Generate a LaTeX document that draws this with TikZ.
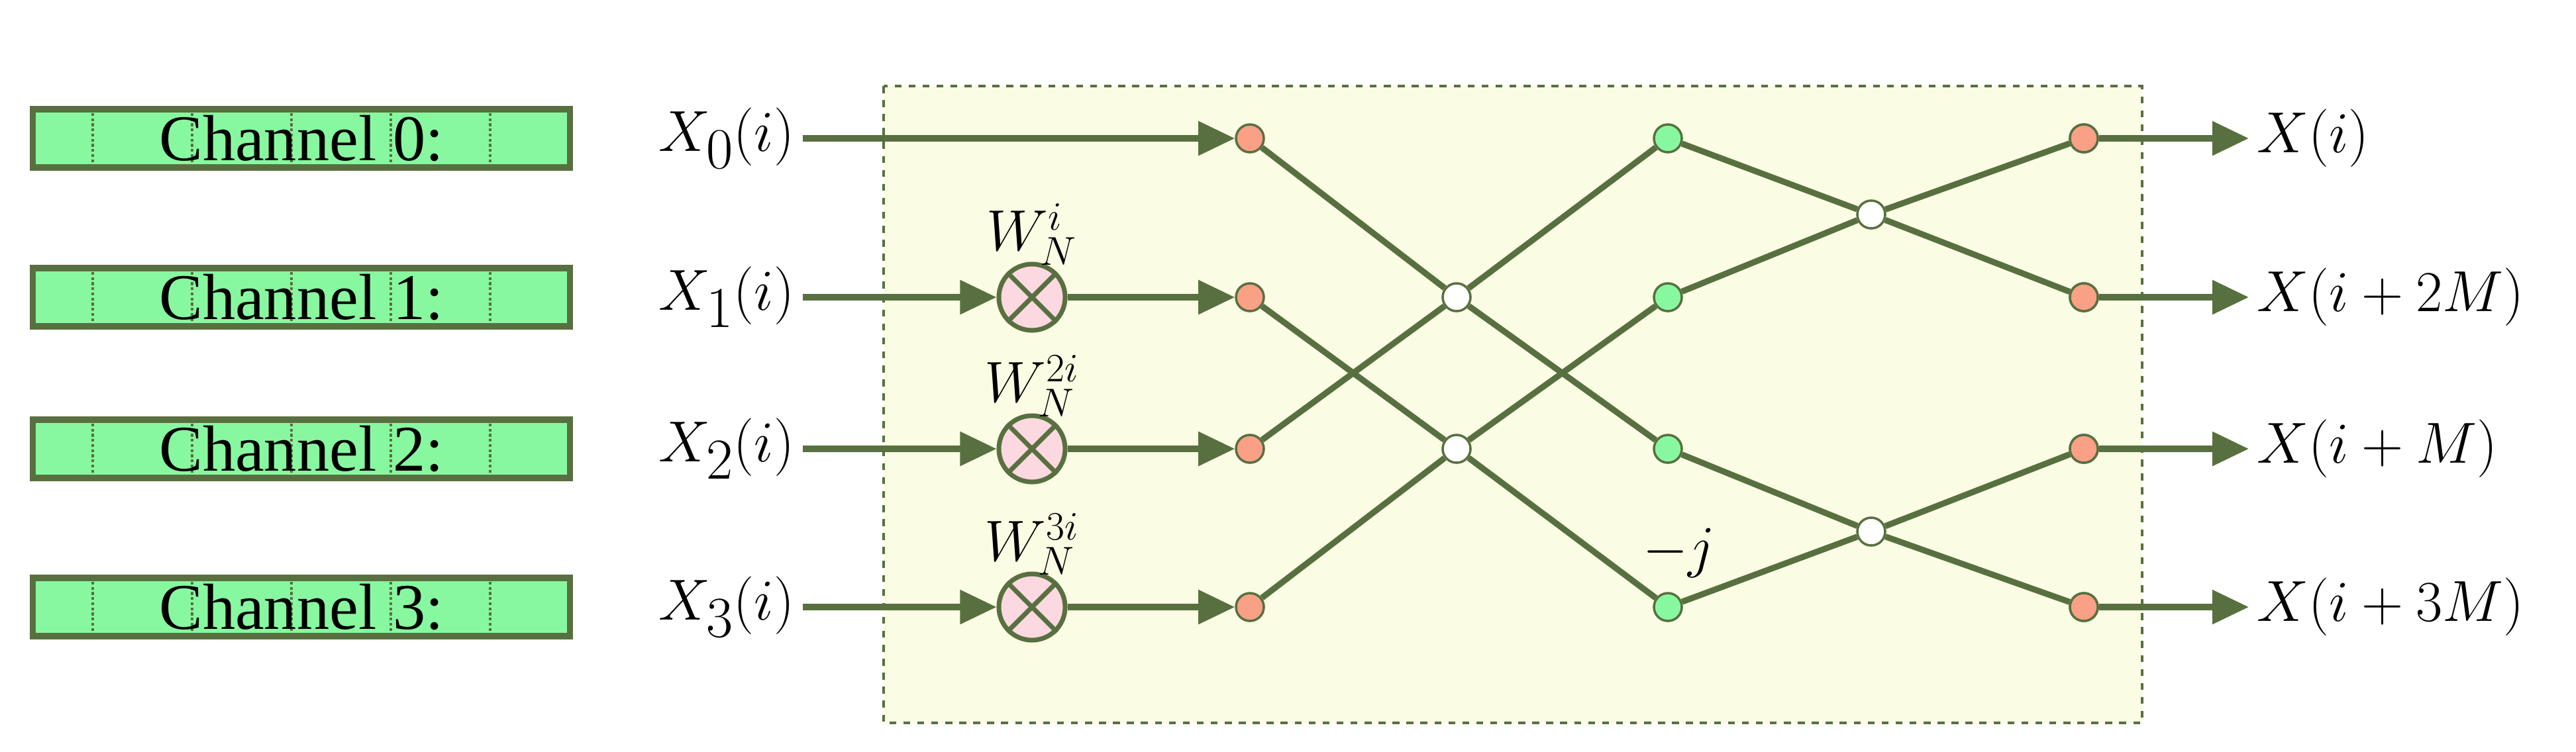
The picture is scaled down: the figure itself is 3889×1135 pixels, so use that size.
\documentclass[tikz,border=0pt]{standalone}
\usepackage{fontspec}
\setmainfont{Liberation Serif}
\usetikzlibrary{arrows.meta, positioning}
\definecolor{edgegreen}{RGB}{88,112,64}
\definecolor{chanfill}{RGB}{136,248,160}
\definecolor{boxfill}{RGB}{250,252,228}
\definecolor{salmon}{RGB}{250,160,135}
\definecolor{pinkfill}{RGB}{252,216,224}
\begin{document}
\begin{tikzpicture}[x=0.01cm, y=-0.01cm,
    line/.style={draw=edgegreen, line width=2.6pt},
    arr/.style={line, -{Triangle[length=0.55cm, width=0.5cm]}},
    chan/.style={draw=edgegreen, line width=2.6pt, fill=chanfill, minimum width=8.1cm, minimum height=0.88cm, inner sep=0pt, font=\fontsize{28}{30}\selectfont},
    sig/.style={font=\fontsize{34}{40}\selectfont},
    dot/.style={circle, draw=edgegreen, line width=1pt, fill=#1, minimum size=0.42cm, inner sep=0pt},
    mult/.style={circle, draw=edgegreen, line width=2pt, fill=pinkfill, minimum size=1.0cm, inner sep=0pt}]
    \useasboundingbox (0,0) rectangle (3889,1135);
    \fill[boxfill] (1334,130) rectangle (3234,1092);
    \draw[edgegreen, dashed, line width=1pt] (1334,130) rectangle (3234,1092);

    % channels and inputs
    \foreach \k/\y in {0/209, 1/449, 2/678, 3/917} {
        \node[chan] (ch\k) at (455,\y) {};
        \foreach \dx in {-315,-165,-15,135,285}
            \draw[edgegreen, densely dotted, line width=1.2pt] (455+\dx,\y-38) -- (455+\dx,\y+38);
        \node[chan, draw=none, fill=none] at (455,\y) {Channel \k:};
        \node[sig] (x\k) at (1097,\y) {$X_{\k}(i)$};
        \node[dot=salmon] (a\k) at (1887,\y) {};
        \node[dot=chanfill] (c\k) at (2518,\y) {};
        \node[dot=salmon] (e\k) at (3146,\y) {};
    }
    \node[dot=white] (b1) at (2199,449) {};
    \node[dot=white] (b2) at (2199,678) {};
    \node[dot=white] (d1) at (2825,324) {};
    \node[dot=white] (d2) at (2825,803) {};

    % twiddle multipliers
    \foreach \k/\y/\p in {1/449/i, 2/678/2i, 3/917/3i} {
        \node[mult] (m\k) at (1558,\y) {};
        \draw[edgegreen, line width=2pt] (m\k.north west) -- (m\k.south east) (m\k.north east) -- (m\k.south west);
        \node[font=\fontsize{24}{28}\selectfont] at (1558,\y-95) {$W_N^{\p}$};
        \draw[arr] (x\k) -- (m\k);
        \draw[arr] (m\k) -- (a\k);
    }
    \draw[arr] (x0) -- (a0);

    % butterflies
    \draw[line] (a0) -- (b1) (a2) -- (b1) (b1) -- (c0) (b1) -- (c2);
    \draw[line] (a1) -- (b2) (a3) -- (b2) (b2) -- (c1) (b2) -- (c3);
    \draw[line] (c0) -- (d1) (c1) -- (d1) (d1) -- (e0) (d1) -- (e1);
    \draw[line] (c2) -- (d2) (c3) -- (d2) (d2) -- (e2) (d2) -- (e3);
    \node[font=\fontsize{30}{34}\selectfont] at (2535,835) {$-j$};

    % outputs
    \node[sig, anchor=west] (o0) at (3395,209) {$X(i)$};
    \node[sig, anchor=west] (o1) at (3395,449) {$X(i+2M)$};
    \node[sig, anchor=west] (o2) at (3395,678) {$X(i+M)$};
    \node[sig, anchor=west] (o3) at (3395,917) {$X(i+3M)$};
    \foreach \k in {0,...,3}
        \draw[arr] (e\k) -- (o\k);
    \foreach \k in {0,...,3} \node[dot=salmon] at (e\k) {};
\end{tikzpicture}
\end{document}
